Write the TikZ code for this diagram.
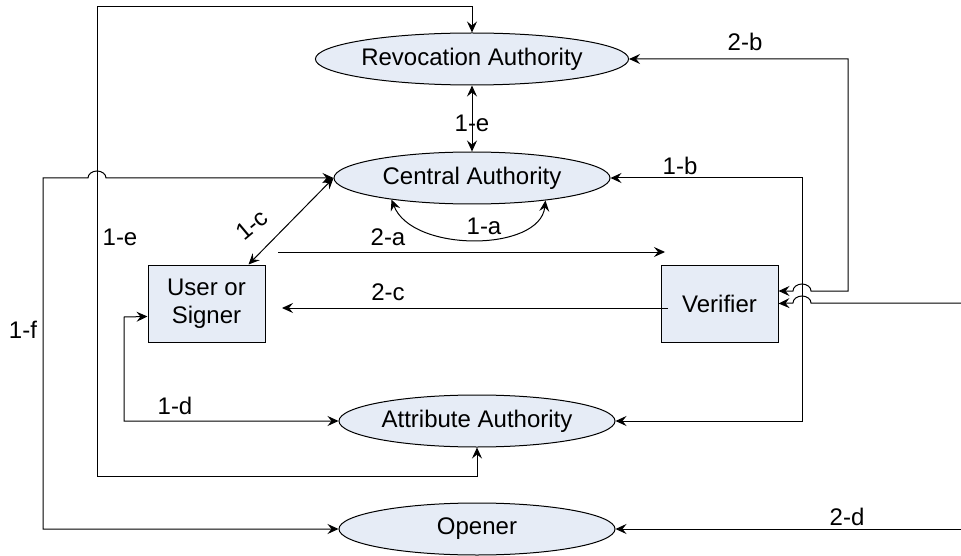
\documentclass[tikz,border=0pt]{standalone}
\usepackage{fontspec}
\setmainfont{Liberation Sans}
\usetikzlibrary{arrows.meta,shapes.geometric}
\definecolor{boxfill}{RGB}{230,236,246}
\begin{document}
\begin{tikzpicture}[x=1pt,y=-1pt,
  line width=1pt,
  font=\fontsize{24}{28}\selectfont,
  >={Stealth[length=11pt,width=10pt,inset=4pt]},
  authority/.style={ellipse,draw,fill=boxfill,minimum width=276pt,minimum height=52pt,inner sep=0pt},
  party/.style={rectangle,draw,fill=boxfill,minimum width=117pt,minimum height=77pt,inner sep=0pt,align=center},
  lbl/.style={inner sep=1pt}]
\useasboundingbox (0,0) rectangle (961,556);

% entities
\node[authority] (revoc)  at (472,59)  {Revocation Authority};
\node[authority] (central) at (472,178) {Central Authority};
\node[authority] (attr)   at (477,421) {Attribute Authority};
\node[authority] (opener) at (477,529) {Opener};
\node[party] (user)     at (206.5,303.5) {User or\\[0pt]Signer};
\node[party] (verifier) at (719.5,303.5) {Verifier};

% free ends of the open connectors
\coordinate (aStart) at (278,252);
\coordinate (aEnd)   at (665,252);
\coordinate (cStart) at (668,308);
\coordinate (cEnd)   at (282,308);
\coordinate (rightIn) at (961,303);
\coordinate (rightOp) at (961,529);

% 1-e between revocation and central authority (label sits under the line)
\node[lbl] (l1e) at (472,123) {1-e};
\draw[<->] (revoc.south) -- (central.north);

% 1-e outer loop: revocation authority <-> attribute authority
\draw[<->] (revoc.north) -- (472,7) -- (97,7) -- (97,476) -- (477,476) -- (attr.south);

% 1-f: central authority <-> opener, hopping over the 1-e line
\draw[<->] (central.west) -- (106,178)
  arc[start angle=0,end angle=180,x radius=9pt,y radius=7pt]
  -- (43,178) -- (43,529) -- (opener.west);

% 1-c
\draw[<->] (central.west) -- ([xshift=-17pt]user.north east);

% 1-a self loop on the central authority
\draw[<->] (central.195) .. controls (412,253) and (540,252) .. (central.343);

% 1-b: central authority <-> attribute authority via the right side
\draw[<->] (central.east) -- (802,178) -- (802,421) -- (attr.east);

% 1-d: user <-> attribute authority
\draw[<->] ([yshift=-13pt]user.west) -- (124,317) -- (124,421) -- (attr.west);

% 2-a and 2-c
\draw[->] (aStart) -- (aEnd);
\draw[->] (cStart) -- (cEnd);

% 2-b: revocation authority <-> verifier, hopping over the 1-b line
\draw[<->] (revoc.east) -- (848,59) -- (848,291) -- (811,291)
  arc[start angle=0,end angle=180,x radius=9pt,y radius=7pt]
  -- ([yshift=12.5pt]verifier.east);

% incoming line to the verifier from the right
\draw[->] (rightIn) -- (811,303)
  arc[start angle=0,end angle=180,x radius=9pt,y radius=7pt]
  -- (verifier.east);

% 2-d
\draw[->] (rightOp) -- (opener.east);

% connector labels
\node[lbl] at (120,237) {1-e};
\node[lbl] at (23,330) {1-f};
\node[lbl,rotate=40] at (252,225) {1-c};
\node[lbl] at (484,226) {1-a};
\node[lbl] at (388,237) {2-a};
\node[lbl] at (388,292) {2-c};
\node[lbl] at (680,166) {1-b};
\node[lbl] at (745,42) {2-b};
\node[lbl] at (847,517) {2-d};
\node[lbl] at (175,406) {1-d};
\end{tikzpicture}
\end{document}
